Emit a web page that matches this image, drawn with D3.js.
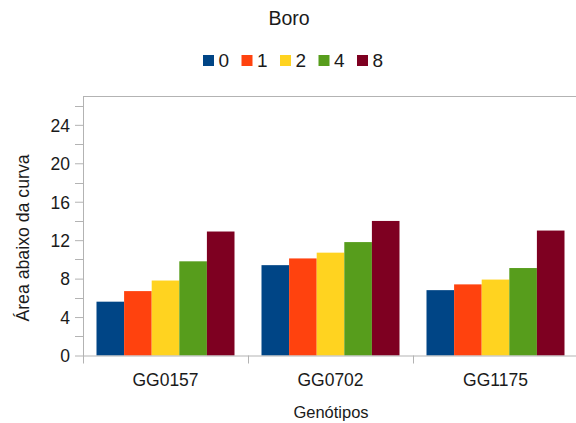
<!DOCTYPE html>
<html><head><meta charset="utf-8">
<script src="https://cdn.jsdelivr.net/npm/d3@7"></script>
<style>body{margin:0;background:#fff}svg{display:block;font-family:"Liberation Sans",Arial,sans-serif}</style>
</head><body>
<svg id="c" width="576" height="423"></svg>
<script>
const categories = ["GG0157", "GG0702", "GG1175"];
const seriesNames = ["0", "1", "2", "4", "8"];
const s0 = [5.6, 9.4, 6.8];
const s1 = [6.7, 10.1, 7.4];
const s2 = [7.8, 10.7, 7.9];
const s3 = [9.8, 11.8, 9.1];
const s4 = [12.9, 14.0, 13.0];
const seriesValues = [s0, s1, s2, s3, s4];
const colors = ["#004586", "#ff420e", "#ffd320", "#579d1c", "#7e0021"];
const yTicks = [0, 4, 8, 12, 16, 20, 24];
const yMinor = [2, 6, 10, 14, 18, 22, 26];

const FF = '"Liberation Sans",Arial,sans-serif';
const txt = "#1a1a1a";
const svg = d3.select("#c");
const L = 83, R = 578, T = 96, B = 355.5;
const x = d3.scaleBand().domain(categories).range([L, R]).padding(0);
const groupW = 138;
const xs = d3.scaleBand().domain(seriesNames)
  .range([(x.bandwidth() - groupW) / 2, (x.bandwidth() + groupW) / 2]).padding(0);
const y = d3.scaleLinear().domain([0, 27]).range([B, T]);
const axisColor = "#b3b3b3";

// bars
categories.forEach((c, ci) => {
  seriesNames.forEach((s, si) => {
    const v = seriesValues[si][ci];
    svg.append("rect")
      .attr("x", x(c) + xs(s)).attr("width", xs.bandwidth())
      .attr("y", y(v)).attr("height", B - y(v))
      .attr("fill", colors[si]);
  });
});

// plot top border
svg.append("line").attr("x1", L).attr("x2", R).attr("y1", T + 0.5).attr("y2", T + 0.5).attr("stroke", axisColor);

// y axis
const ya = svg.append("g").attr("transform", `translate(${L},0)`)
  .call(d3.axisLeft(y).tickValues(yTicks).tickSize(8).tickPadding(5).tickFormat(d3.format("d")));
ya.select(".domain").attr("stroke", axisColor).attr("d", `M0.5,${T}V${B + 6}`);
ya.selectAll(".tick line").attr("stroke", axisColor);
ya.selectAll(".tick text").attr("fill", txt).attr("dy", "0.36em")
  .style("font-size", "17.5px").style("font-family", FF);
svg.append("g").selectAll("line").data(yMinor).join("line")
  .attr("x1", L - 8).attr("x2", L).attr("y1", d => Math.round(y(d)) + 0.5).attr("y2", d => Math.round(y(d)) + 0.5)
  .attr("stroke", axisColor);

// x axis
const xa = svg.append("g").attr("transform", `translate(0,${B})`)
  .call(d3.axisBottom(x).tickSize(0).tickPadding(0));
xa.select(".domain").attr("stroke", axisColor).attr("d", `M${L},0.5H${R}`);
xa.selectAll(".tick text").attr("fill", txt).attr("dy", null).attr("y", 30)
  .style("font-size", "17.5px").style("font-family", FF);
const bounds = categories.map(c => x(c)).concat([x(categories[categories.length - 1]) + x.bandwidth()]);
svg.append("g").selectAll("line").data(bounds).join("line")
  .attr("x1", d => Math.round(d) + 0.5).attr("x2", d => Math.round(d) + 0.5).attr("y1", B).attr("y2", B + 8)
  .attr("stroke", axisColor);

// title
svg.append("text").attr("x", 289).attr("y", 25).attr("text-anchor", "middle")
  .style("font-size", "19.5px").attr("fill", txt).text("Boro");

// legend
const leg = svg.append("g");
seriesNames.forEach((s, i) => {
  const lx = 203 + i * 38.5;
  leg.append("rect").attr("x", lx).attr("y", 55).attr("width", 11).attr("height", 11).attr("fill", colors[i]);
  leg.append("text").attr("x", lx + 15.5).attr("y", 67).style("font-size", "19px").attr("fill", txt).text(s);
});

// axis titles
svg.append("text").attr("x", 331).attr("y", 418).attr("text-anchor", "middle")
  .style("font-size", "16.5px").attr("fill", txt).text("Genótipos");
svg.append("text").attr("transform", `translate(29,238) rotate(-90)`).attr("text-anchor", "middle")
  .style("font-size", "17.7px").attr("fill", txt).text("Área abaixo da curva");
</script>
</body></html>
